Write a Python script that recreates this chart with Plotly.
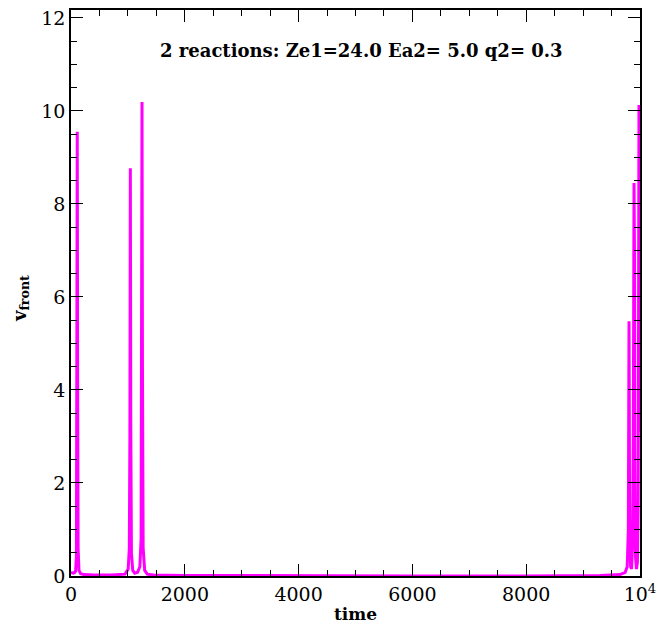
import plotly.graph_objects as go

# time samples and front velocity
time = [0, 20, 40, 60, 80, 95, 103, 110, 117, 125, 140, 170, 230, 400, 700,
        950, 1005, 1025, 1035, 1043, 1051, 1062, 1085, 1120, 1170, 1210, 1232, 1241, 1248, 1256,
        1268, 1295, 1340, 1450, 2000, 3000, 4500, 6000, 8000, 9300, 9650, 9740, 9775,
        9795, 9807, 9818, 9835, 9852, 9868, 9882, 9895, 9903, 9910, 9922, 9938, 9955,
        9968, 9982, 9992, 10000]
v_front = [0.08, 0.07, 0.06, 0.07, 0.1, 0.4, 3.5, 9.55, 4.0, 0.6, 0.12, 0.05, 0.03, 0.02, 0.02,
           0.04, 0.15, 0.6, 3.0, 8.77, 3.2, 0.5, 0.12, 0.06, 0.08, 0.2, 0.8, 4.0, 10.19, 4.5,
           0.6, 0.12, 0.04, 0.02, 0.01, 0.01, 0.0, 0.0, 0.0, 0.01, 0.03, 0.08, 0.2,
           1.0, 5.48, 1.2, 0.2, 0.15, 0.6, 3.0, 8.45, 7.0, 2.5, 0.4, 0.15, 0.3,
           1.5, 10.13, 6.0, 3.1]

title_text = "2 reactions: Ze1=24.0 Ea2= 5.0 q2= 0.3"
x_title = "time"
y_title = "v<sub>front</sub>"
x_ticks = [0, 2000, 4000, 6000, 8000, 10000]
x_ticklabels = ["0", "2000", "4000", "6000", "8000", "10<sup>4</sup>"]
y_ticks = [0, 2, 4, 6, 8, 10, 12]

FONT = "DejaVu Serif"

fig = go.Figure()
fig.add_trace(go.Scatter(x=time, y=v_front, mode="lines",
                         line=dict(color="#FF00FF", width=3), showlegend=False))

axis_common = dict(showline=True, linecolor="black", linewidth=1.5, mirror="allticks",
                   ticks="inside", ticklen=12, tickcolor="black", tickwidth=1.2,
                   showgrid=False, zeroline=False, automargin=False,
                   ticklabeloverflow="allow",
                   tickfont=dict(family=FONT, size=19, color="black"))

# the page body adds an 8px offset, so the figure is sized to fit inside the window
fig.update_layout(
    width=660, height=616,
    margin=dict(l=63, r=28, t=2, b=48),
    paper_bgcolor="white", plot_bgcolor="white",
    xaxis=dict(range=[0, 10000], tickvals=x_ticks, ticktext=x_ticklabels,
               minor=dict(ticks="inside", ticklen=6, dtick=500, tickcolor="black", tickwidth=1.2),
               **axis_common),
    yaxis=dict(range=[0, 12.17], tickvals=y_ticks,
               minor=dict(ticks="inside", ticklen=6, dtick=0.5, tickcolor="black", tickwidth=1.2),
               **axis_common),
    annotations=[
        dict(text="<b>" + title_text + "</b>", xref="paper", yref="paper", x=0.511, y=0.929,
             showarrow=False, xanchor="center", yanchor="middle",
             font=dict(family=FONT, size=18, color="black")),
        dict(text="<b>" + x_title + "</b>", xref="paper", yref="paper", x=0.5, y=-0.068,
             showarrow=False, xanchor="center", yanchor="middle",
             font=dict(family=FONT, size=17, color="black")),
        dict(text="<b>" + y_title + "</b>", xref="paper", yref="paper", x=-0.089, y=0.49,
             showarrow=False, xanchor="center", yanchor="middle", textangle=-90,
             font=dict(family=FONT, size=18, color="black")),
    ],
)

fig.write_html("out.html")
